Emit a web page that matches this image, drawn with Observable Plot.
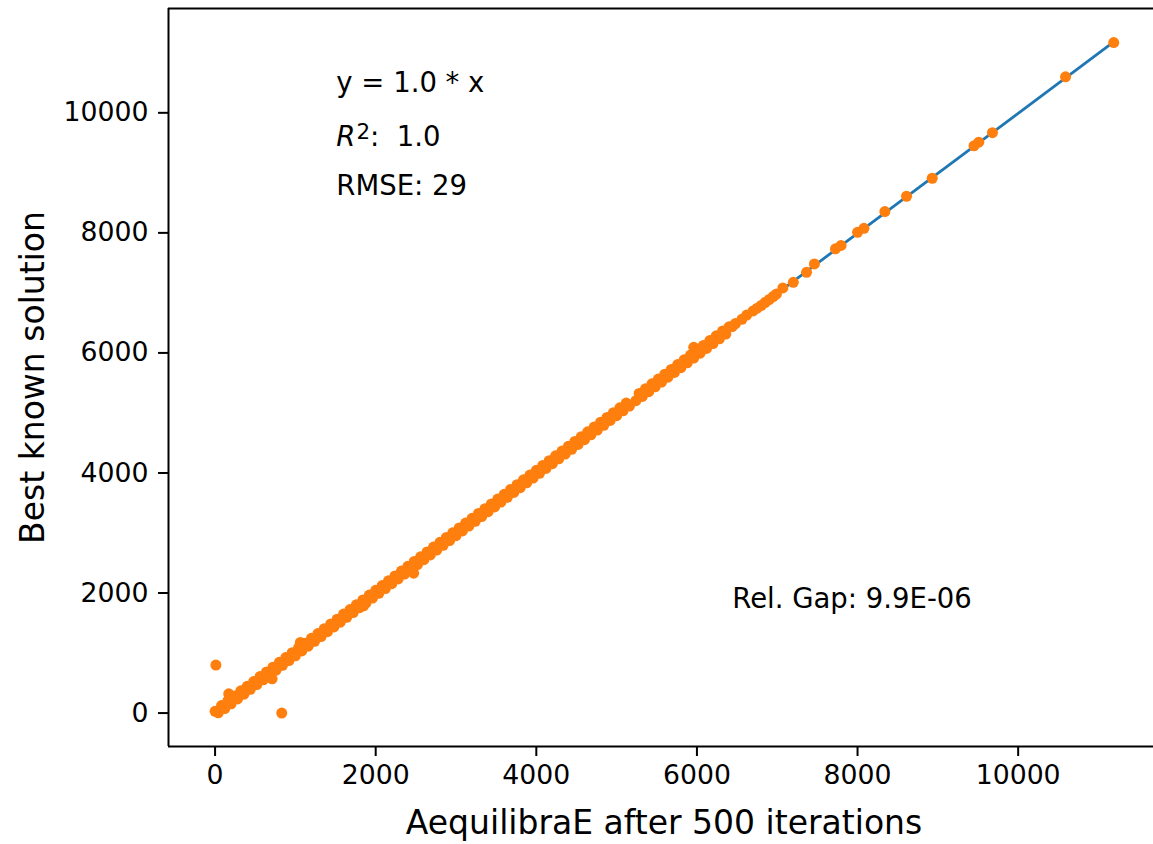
<!DOCTYPE html>
<html><head><meta charset="utf-8">
<script src="https://cdn.jsdelivr.net/npm/d3@7"></script>
<script src="https://cdn.jsdelivr.net/npm/@observablehq/plot@0.6"></script>
<style>html,body{margin:0;padding:0;background:#fff;overflow:hidden}</style>
</head><body><div id="chart"></div>
<script>
// Dense band: AequilibraE flow (x) vs best known solution (y)
const bandX = [0, 40, 80, 120, 160, 200, 240, 280, 320, 360, 400, 440, 480, 520, 560, 600, 640, 680, 720, 760, 800, 840, 880, 920, 960, 1000, 1040, 1080, 1120, 1160, 1200, 1240, 1280, 1320, 1360, 1400, 1440, 1480, 1520, 1560, 1600, 1640, 1680, 1720, 1760, 1800, 1840, 1880, 1920, 1960, 2000, 2040, 2080, 2120, 2160, 2200, 2240, 2280, 2320, 2360, 2400, 2440, 2480, 2520, 2560, 2600, 2640, 2680, 2720, 2760, 2800, 2840, 2880, 2920, 2960, 3000, 3040, 3080, 3120, 3160, 3200, 3240, 3280, 3320, 3360, 3400, 3440, 3480, 3520, 3560, 3600, 3640, 3680, 3720, 3760, 3800, 3840, 3880, 3920, 3960, 4000, 4040, 4080, 4120, 4160, 4200, 4240, 4280, 4320, 4360, 4400, 4440, 4480, 4520, 4560, 4600, 4640, 4680, 4720, 4760, 4800, 4840, 4880, 4920, 4960, 5000, 5040, 5080, 5120, 5160, 5240, 5280, 5320, 5360, 5400, 5440, 5480, 5520, 5560, 5600, 5640, 5680, 5720, 5760, 5800, 5840, 5880, 5920, 5960, 6000, 6040, 6080, 6120, 6160, 6200, 6240, 6280, 6320, 6360, 6400];
const bandY = [30, 5, 125, 75, 205, 155, 285, 235, 370, 315, 445, 395, 525, 475, 610, 555, 685, 635, 765, 715, 845, 795, 925, 875, 1005, 955, 1090, 1035, 1165, 1115, 1245, 1195, 1325, 1275, 1405, 1355, 1485, 1435, 1565, 1515, 1650, 1595, 1725, 1675, 1805, 1755, 1885, 1835, 1965, 1915, 2045, 1995, 2125, 2075, 2205, 2155, 2285, 2235, 2365, 2315, 2445, 2395, 2525, 2475, 2605, 2555, 2685, 2635, 2765, 2715, 2845, 2795, 2925, 2875, 3005, 2955, 3085, 3035, 3165, 3115, 3245, 3195, 3325, 3275, 3405, 3355, 3485, 3435, 3565, 3515, 3645, 3595, 3725, 3675, 3805, 3755, 3885, 3835, 3965, 3915, 4045, 3995, 4125, 4075, 4205, 4155, 4285, 4235, 4365, 4315, 4445, 4395, 4525, 4475, 4605, 4555, 4685, 4635, 4765, 4715, 4845, 4795, 4925, 4875, 5005, 4955, 5085, 5035, 5165, 5115, 5205, 5325, 5275, 5405, 5355, 5485, 5435, 5565, 5515, 5645, 5595, 5725, 5675, 5805, 5755, 5885, 5835, 5965, 5915, 6045, 5995, 6125, 6075, 6205, 6155, 6285, 6235, 6365, 6315, 6435];
// Off-band and sparse points
const extraX = [170, 710, 1062, 1850, 2473, 5960, 6440, 6480, 6560, 6620, 6700, 6750, 6800, 6850, 6900, 6950, 6990, 7070, 7200, 7365, 7463, 7725, 7795, 8000, 8080, 8340, 8610, 8930, 9450, 9510, 9680, 10590, 11190, 10, 830];
const extraY = [320, 570, 1177, 1788, 2330, 6093, 6440, 6490, 6560, 6630, 6700, 6745, 6790, 6840, 6890, 6940, 6980, 7083, 7177, 7343, 7483, 7735, 7790, 8010, 8075, 8355, 8610, 8910, 9450, 9510, 9670, 10600, 11170, 800, 0];

// Fitted line y = 1.0 * x
const fitX = [0, 11190];
const fitY = [0, 11180];

const xTicks = [0, 2000, 4000, 6000, 8000, 10000];
const yTicks = [0, 2000, 4000, 6000, 8000, 10000];

const statLabels = ["y = 1.0 * x", "R²:  1.0", "RMSE: 29"];
const statX = [1510, 1510, 1510];
const statY = [10355, 9455, 8633];
const gapLabels = ["Rel. Gap: 9.9E-06"];
const gapX = [6440];
const gapY = [1755];

const xLabel = "AequilibraE after 500 iterations";
const yLabel = "Best known solution";

const xDomain = [-580, 11760];
const yDomain = [-557, 11738];

const points = bandX.map((x, i) => ({x, y: bandY[i]}))
  .concat(extraX.map((x, i) => ({x, y: extraY[i]})));
const fit = fitX.map((x, i) => ({x, y: fitY[i]}));
const stats = statLabels.map((t, i) => ({t, x: statX[i], y: statY[i]}));
const gaps = gapLabels.map((t, i) => ({t, x: gapX[i], y: gapY[i]}));

const FONT = "DejaVu Sans, sans-serif";
const plot = Plot.plot({
  width: 1153,
  height: 844,
  marginLeft: 168,
  marginRight: -6,
  marginTop: 8,
  marginBottom: 98,
  style: {fontFamily: FONT, color: "#000", background: "#fff"},
  x: {domain: xDomain, axis: null},
  y: {domain: yDomain, axis: null},
  marks: [
    Plot.line(fit, {x: "x", y: "y", stroke: "#1f77b4", strokeWidth: 2.8}),
    Plot.dot(points, {x: "x", y: "y", r: 5.5, fill: "#ff7f0e", stroke: null}),
    Plot.ruleX([xDomain[0]], {stroke: "#000", strokeWidth: 2}),
    Plot.ruleY(yDomain, {stroke: "#000", strokeWidth: 2}),
    Plot.axisX(xTicks, {anchor: "bottom", tickSize: 10, tickPadding: 9, fontSize: 26.7, strokeWidth: 2, tickFormat: d3.format("d"), label: null, fill: "#000", stroke: "#000"}),
    Plot.axisY(yTicks, {anchor: "left", tickSize: 10, tickPadding: 10, fontSize: 26.7, strokeWidth: 2, tickFormat: d3.format("d"), label: null, fill: "#000", stroke: "#000"}),
    Plot.text(stats, {x: "x", y: "y", text: "t", textAnchor: "start", lineAnchor: "bottom", fontSize: 27.5, fill: "#000"}),
    Plot.text(gaps, {x: "x", y: "y", text: "t", textAnchor: "start", lineAnchor: "bottom", fontSize: 27.5, fill: "#000"}),
    Plot.text([xLabel], {frameAnchor: "bottom", dy: 87, textAnchor: "middle", lineAnchor: "bottom", fontSize: 33, fill: "#000"}),
    Plot.text([yLabel], {frameAnchor: "left", dx: -125, rotate: -90, textAnchor: "middle", lineAnchor: "bottom", fontSize: 33, fill: "#000"})
  ]
});

// mathtext-like R² : italic R with superscript 2
d3.select(plot).selectAll("text").filter(function() { return this.textContent === "R²:  1.0"; })
  .each(function() {
    const t = d3.select(this);
    t.text(null);
    t.append("tspan").attr("font-style", "italic").text("R");
    t.append("tspan").attr("dx", "1px").attr("dy", "-7px").attr("font-size", "0.78em").text("2");
    t.append("tspan").attr("dy", "7px").text(":  1.0");
  });

document.getElementById("chart").appendChild(plot);
</script>
</body></html>
